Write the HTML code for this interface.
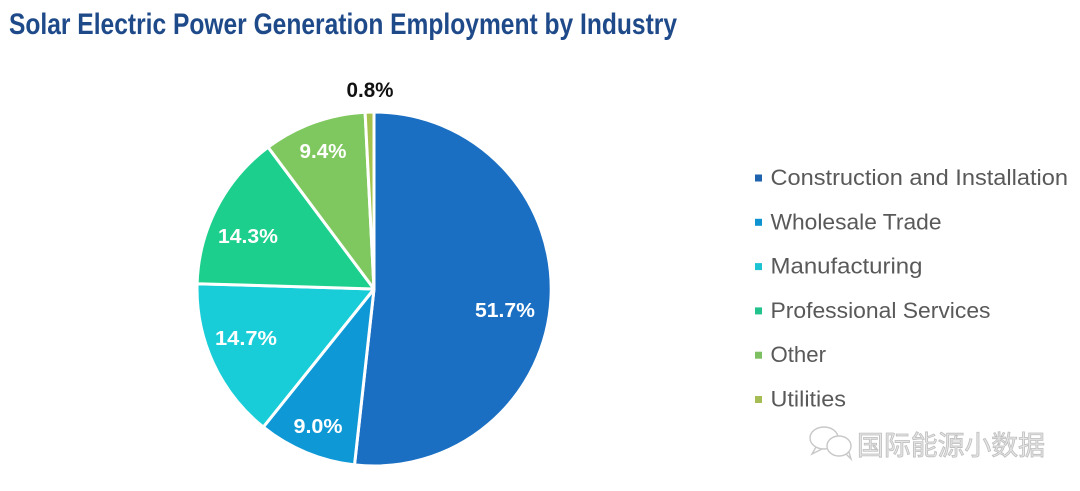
<!DOCTYPE html>
<html>
<head>
<meta charset="utf-8">
<style>
  html, body { margin: 0; padding: 0; background: #ffffff; }
  body { width: 1080px; height: 491px; overflow: hidden; }
  svg { display: block; }
</style>
</head>
<body>
<svg width="1080" height="491" viewBox="0 0 1080 491" xmlns="http://www.w3.org/2000/svg">
  <rect x="0" y="0" width="1080" height="491" fill="#ffffff"/>

  <!-- Title -->
  <text x="9" y="34" font-family="'Liberation Sans Narrow', 'Liberation Sans', sans-serif" font-weight="bold" font-size="30" fill="#1f4a8a" textLength="668" lengthAdjust="spacingAndGlyphs">Solar Electric Power Generation Employment by Industry</text>

  <!-- Pie -->
  <g stroke="#ffffff" stroke-width="3" stroke-linejoin="round">
    <path d="M374,289 L374,112 A177,177 0 1,1 354.5,464.9 Z" fill="#1a6fc3"/>
    <path d="M374,289 L354.5,464.9 A177,177 0 0,1 263.3,427.1 Z" fill="#0e98d6"/>
    <path d="M374,289 L263.3,427.1 A177,177 0 0,1 197.1,283.7 Z" fill="#19cdd8"/>
    <path d="M374,289 L197.1,283.7 A177,177 0 0,1 268.1,147.2 Z" fill="#1ccf8c"/>
    <path d="M374,289 L268.1,147.2 A177,177 0 0,1 365.1,112.2 Z" fill="#7fc85f"/>
    <path d="M374,289 L365.1,112.2 A177,177 0 0,1 374,112 Z" fill="#a5c24e"/>
  </g>

  <!-- Data labels -->
  <g font-family="'Liberation Sans', sans-serif" font-weight="bold" font-size="20" fill="#ffffff" text-anchor="middle">
    <text x="505" y="317" textLength="60" lengthAdjust="spacingAndGlyphs">51.7%</text>
    <text x="318" y="433" textLength="49" lengthAdjust="spacingAndGlyphs">9.0%</text>
    <text x="246" y="345" textLength="62" lengthAdjust="spacingAndGlyphs">14.7%</text>
    <text x="248" y="243" textLength="60" lengthAdjust="spacingAndGlyphs">14.3%</text>
    <text x="323" y="158" textLength="47" lengthAdjust="spacingAndGlyphs">9.4%</text>
  </g>
  <text x="370" y="97" font-family="'Liberation Sans', sans-serif" font-weight="bold" font-size="21" fill="#111111" text-anchor="middle" textLength="47" lengthAdjust="spacingAndGlyphs">0.8%</text>

  <!-- Legend -->
  <g font-family="'Liberation Sans', sans-serif" font-size="22" fill="#595959">
    <rect x="755" y="174.5" width="7" height="7" fill="#1f62ad"/>
    <text x="770.5" y="185" textLength="297.5" lengthAdjust="spacingAndGlyphs">Construction and Installation</text>

    <rect x="755" y="218.8" width="7" height="7" fill="#0e92d0"/>
    <text x="770.5" y="229.3" textLength="171" lengthAdjust="spacingAndGlyphs">Wholesale Trade</text>

    <rect x="755" y="263.1" width="7" height="7" fill="#1cc3d3"/>
    <text x="770.5" y="273.6" textLength="152" lengthAdjust="spacingAndGlyphs">Manufacturing</text>

    <rect x="755" y="307.4" width="7" height="7" fill="#22c28c"/>
    <text x="770.5" y="317.9" textLength="220" lengthAdjust="spacingAndGlyphs">Professional Services</text>

    <rect x="755" y="351.7" width="7" height="7" fill="#7dc062"/>
    <text x="770.5" y="362.2" textLength="55.5" lengthAdjust="spacingAndGlyphs">Other</text>

    <rect x="755" y="396" width="7" height="7" fill="#a6bd55"/>
    <text x="770.5" y="406.5" textLength="75.5" lengthAdjust="spacingAndGlyphs">Utilities</text>
  </g>

  <!-- Watermark -->
  <g fill="none" stroke="#c8c8c8" stroke-width="1.4">
    <ellipse cx="824" cy="438" rx="14" ry="11"/>
    <ellipse cx="839" cy="446" rx="12" ry="10" fill="#ffffff"/>
    <path d="M816,447 L812,454 L822,449"/>
    <path d="M846,454 L851,459 L849,452"/>
  </g>
  <text x="857" y="455" font-family="'Liberation Sans', 'Noto Sans CJK SC', sans-serif" font-size="27" fill="#e6e6e6" stroke="#bdbdbd" stroke-width="0.8" textLength="188" lengthAdjust="spacingAndGlyphs">国际能源小数据</text>
</svg>
</body>
</html>
